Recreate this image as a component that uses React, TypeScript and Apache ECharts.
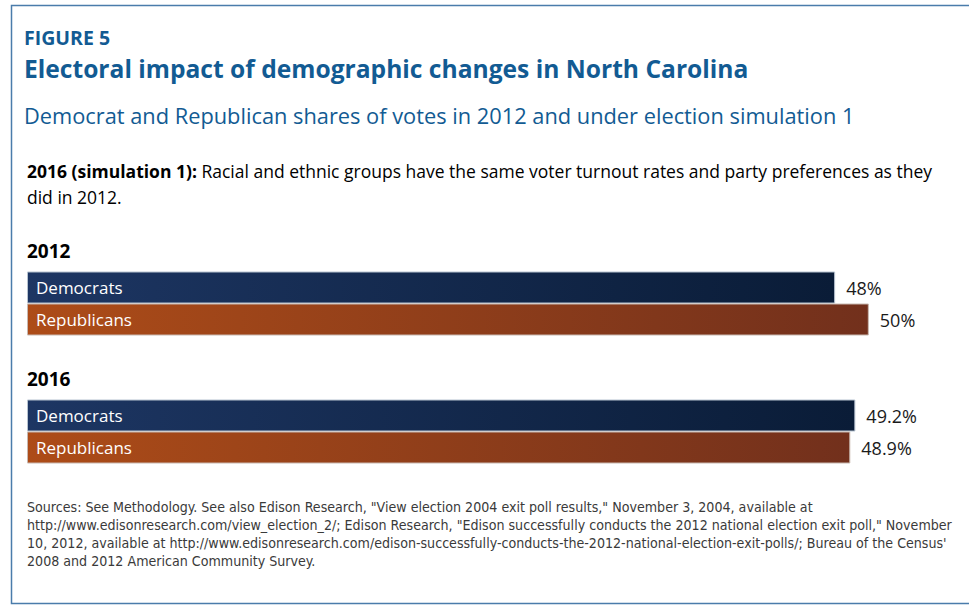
import React, { useEffect, useRef } from "react";
import * as echarts from "echarts";

const years = ["2012", "2016"];
const democrats = [48, 49.2];
const republicans = [50, 48.9];
const seriesNames = ["Democrats", "Republicans"];

const figureLabel = "FIGURE 5";
const titleText = "Electoral impact of demographic changes in North Carolina";
const subtitleText = "Democrat and Republican shares of votes in 2012 and under election simulation 1";
const descBold = "2016 (simulation 1):";
const descLine1 = " Racial and ethnic groups have the same voter turnout rates and party preferences as they";
const descLine2 = "did in 2012.";
const sourceLines = [
  'Sources: See Methodology. See also Edison Research, "View election 2004 exit poll results," November 3, 2004, available at',
  'http://www.edisonresearch.com/view_election_2/; Edison Research, "Edison successfully conducts the 2012 national election exit poll," November',
  "10, 2012, available at http://www.edisonresearch.com/edison-successfully-conducts-the-2012-national-election-exit-polls/; Bureau of the Census'",
  "2008 and 2012 American Community Survey.",
];

const FONT = "'Open Sans', 'Noto Sans', sans-serif";
const NARROW = "'Liberation Sans Narrow', 'DejaVu Sans Condensed', Lato, sans-serif";
const BLUE = "#125b93";

export default function App() {
  const ref = useRef<HTMLDivElement>(null);
  useEffect(() => {
    if (!ref.current) return;
    const chart = echarts.init(ref.current, null, { renderer: "svg" });
    const demGrad = new echarts.graphic.LinearGradient(0, 0, 1, 0, [
      { offset: 0, color: "#1d3663" },
      { offset: 1, color: "#0a1c37" },
    ]);
    const repGrad = new echarts.graphic.LinearGradient(0, 0, 1, 0, [
      { offset: 0, color: "#ad4c18" },
      { offset: 1, color: "#72301c" },
    ]);
    const grid = { left: 27, right: 16, top: 239.5, height: 256 };
    const barCommon = {
      type: "bar" as const,
      barWidth: 32,
      barGap: "0%",
    };
    const valueLabel = {
      show: true,
      position: "right" as const,
      distance: 11,
      formatter: (p: any) => p.value + "%",
      fontFamily: FONT,
      fontSize: 18,
      color: "#1a1a1a",
    };
    chart.setOption({
      animation: false,
      backgroundColor: "#ffffff",
      grid: [grid, grid],
      xAxis: [
        { type: "value", gridIndex: 0, min: 0, max: 55, show: false },
        { type: "value", gridIndex: 1, min: 0, max: 55, show: false },
      ],
      yAxis: [
        { type: "category", gridIndex: 0, data: years, inverse: true, show: false },
        { type: "category", gridIndex: 1, data: years, inverse: true, show: false },
      ],
      series: [
        {
          ...barCommon,
          name: seriesNames[0],
          data: democrats,
          xAxisIndex: 0,
          yAxisIndex: 0,
          itemStyle: { color: demGrad, borderColor: "#b7c3d0", borderWidth: 1 },
          label: valueLabel,
        },
        {
          ...barCommon,
          name: seriesNames[1],
          data: republicans,
          xAxisIndex: 0,
          yAxisIndex: 0,
          itemStyle: { color: repGrad, borderColor: "#c8b8b0", borderWidth: 1 },
          label: valueLabel,
        },
        {
          ...barCommon,
          name: seriesNames[0] + " label",
          data: democrats,
          xAxisIndex: 1,
          yAxisIndex: 1,
          silent: true,
          itemStyle: { color: "rgba(0,0,0,0)" },
          label: {
            show: true,
            position: "insideLeft",
            distance: 9,
            formatter: () => seriesNames[0],
            fontFamily: FONT,
            fontSize: 17,
            color: "#ffffff",
          },
        },
        {
          ...barCommon,
          name: seriesNames[1] + " label",
          data: republicans,
          xAxisIndex: 1,
          yAxisIndex: 1,
          silent: true,
          itemStyle: { color: "rgba(0,0,0,0)" },
          label: {
            show: true,
            position: "insideLeft",
            distance: 9,
            formatter: () => seriesNames[1],
            fontFamily: FONT,
            fontSize: 17,
            color: "#ffffff",
          },
        },
      ],
      graphic: [
        {
          type: "polyline",
          shape: { points: [[975, 5.5], [11.5, 5.5], [11.5, 603.5], [975, 603.5]] },
          style: { stroke: "#4a7cab", lineWidth: 1.5, fill: "none" },
          silent: true,
        },
        {
          type: "text",
          left: 24,
          top: 27,
          style: { text: figureLabel, font: `bold 19.5px ${FONT}`, fill: BLUE },
        },
        {
          type: "text",
          left: 24,
          top: 56,
          style: { text: titleText, font: `bold 24.6px ${FONT}`, fill: BLUE },
        },
        {
          type: "text",
          left: 24,
          top: 104.5,
          style: { text: subtitleText, font: `21.8px ${FONT}`, fill: BLUE },
        },
        {
          type: "text",
          left: 27,
          top: 161.5,
          style: {
            text: `{b|${descBold}}{r|${descLine1}}`,
            rich: {
              b: { font: `bold 17.5px ${FONT}`, fill: "#000" },
              r: { font: `17.5px ${FONT}`, fill: "#000" },
            },
          },
        },
        {
          type: "text",
          left: 27,
          top: 187.5,
          style: { text: descLine2, font: `17.5px ${FONT}`, fill: "#000" },
        },
        {
          type: "text",
          left: 27,
          top: 241,
          style: { text: years[0], font: `bold 19px ${FONT}`, fill: "#000" },
        },
        {
          type: "text",
          left: 27,
          top: 369,
          style: { text: years[1], font: `bold 19px ${FONT}`, fill: "#000" },
        },
        ...sourceLines.map((line, i) => ({
          type: "text",
          left: 27,
          top: 499.5 + i * 18.2,
          style: { text: line, font: `14.1px ${NARROW}`, fill: "#3a3a3a" },
        })),
      ],
    });
    return () => chart.dispose();
  }, []);
  return (
    <div
      ref={ref}
      style={{ position: "fixed", left: 0, top: 0, width: 969, height: 606, background: "#fff" }}
    />
  );
}
